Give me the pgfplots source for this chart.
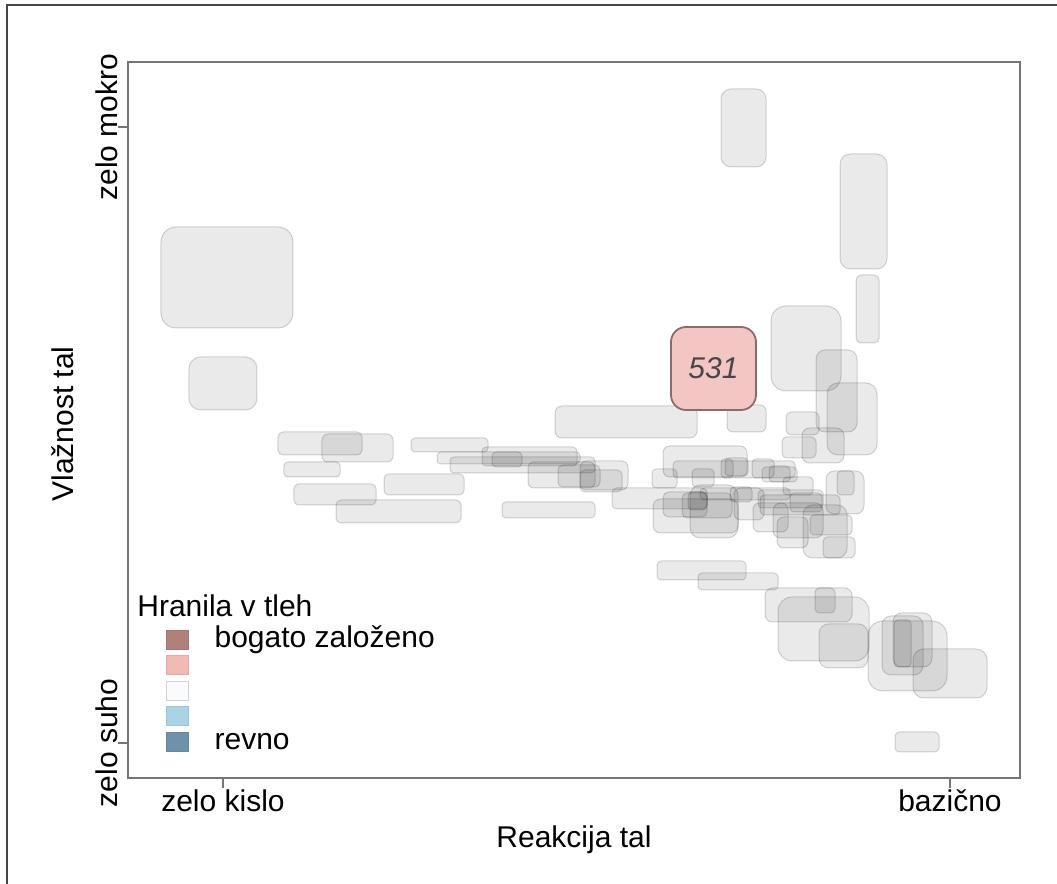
\documentclass[border=0pt]{standalone}
\usepackage{pgfplots}
\pgfplotsset{compat=1.18}
\usepackage{fontspec}
\setmainfont{Liberation Sans}
\definecolor{axgray}{RGB}{118,118,118}
\definecolor{framegray}{RGB}{70,70,70}
\definecolor{pinkfill}{RGB}{242,198,194}
\definecolor{pinkedge}{RGB}{140,108,106}
\definecolor{lc1}{RGB}{176,128,123}
\definecolor{lc2}{RGB}{241,186,180}
\definecolor{lc3}{RGB}{250,251,253}
\definecolor{lc4}{RGB}{171,211,230}
\definecolor{lc5}{RGB}{111,146,172}
\pgfplotsset{
  box/.style={forget plot, mark=none, fill=black, fill opacity=0.082, draw=black, draw opacity=0.16, line width=0.5pt},
  pinkbox/.style={forget plot, mark=none, fill=pinkfill, draw=pinkedge, line width=0.9pt},
  sq/.style={legend image code/.code={\draw[##1] (0pt,-4.75pt) rectangle (11pt,4.75pt); \path[draw=none,fill=none] (0pt,0pt) -- (24pt,0pt);}},
}
% one rounded box: x1, x2, y1, y2 (image pixel units; y counted downward)
\newcommand{\bx}[5][box]{%
  \pgfmathsetmacro{\rw}{abs(#3-#2)}%
  \pgfmathsetmacro{\rh}{abs(#5-#4)}%
  \pgfmathsetmacro{\rr}{0.5*min(15,max(4,0.22*min(\rw,\rh)))}%
  \edef\tmpbox{\noexpand\addplot[#1, rounded corners=\rr pt] coordinates {(#2,-#4) (#3,-#4) (#3,-#5) (#2,-#5)} -- cycle;}%
  \tmpbox}
\begin{document}
\fontsize{15}{18}\selectfont
\begin{tikzpicture}
\begin{axis}[
  scale only axis, width=446pt, height=358pt,
  xmin=128, xmax=1020, ymin=-778, ymax=-62,
  clip=false,
  axis line style={draw=axgray, line width=1pt},
  tick style={draw=axgray, line width=0.6pt},
  tick align=outside, major tick length=5pt, tick pos=left,
  xtick={223,950}, xticklabels={zelo kislo, bazično},
  ytick={-743,-127}, yticklabels={zelo suho, zelo mokro},
  xticklabel style={anchor=base, inner sep=0pt, yshift=-12pt},
  yticklabel style={rotate=90, anchor=base, inner sep=0pt},
  xlabel={Reakcija tal},
  xlabel style={at={(axis cs:574,-848)}, anchor=base, inner sep=0pt},
  ylabel={Vlažnost tal},
  ylabel style={at={(axis cs:74,-424)}, anchor=base, inner sep=0pt},
  legend style={at={(axis cs:166,-627)}, anchor=north west, draw=none, fill=none,
    inner sep=0pt, outer sep=0pt, row sep=0pt,
    nodes={inner sep=0pt, text height=10.5pt, text depth=2.25pt}},
  legend cell align=left,
]
% upper / isolated
\bx{161}{293}{227}{328}
\bx{189}{257}{357}{410}
\bx{721}{766}{89}{167}
\bx{840}{887}{154}{269}
\bx{856}{879}{275}{343}
\bx{771}{841}{306}{391}
\bx{816}{857}{350}{432}
\bx{827}{877}{383}{455}
\bx{555}{697}{406}{438}
\bx{727}{766}{405}{432}
\bx{786}{819}{412}{435}
\bx{782}{816}{437}{458}
\bx{802}{844}{428}{463}
% left strips
\bx{278}{362}{432}{455}
\bx{322}{393}{434}{462}
\bx{284}{340}{462}{477}
\bx{294}{376}{484}{505}
\bx{336}{461}{500}{523}
\bx{384}{464}{474}{495}
\bx{411}{488}{438}{452}
\bx{437}{580}{452}{464}
\bx{450}{595}{457}{473}
\bx{482}{577}{447}{466}
\bx{492}{522}{452}{467}
\bx{528}{595}{462}{488}
\bx{558}{600}{465}{487}
\bx{502}{595}{502}{518}
% middle cluster
\bx{580}{628}{461}{490}
\bx{580}{622}{470}{492}
\bx{663}{747}{446}{477}
\bx{673}{795}{461}{478}
\bx{721}{733}{459}{478}
\bx{725}{748}{458}{476}
\bx{752}{774}{459}{478}
\bx{769}{790}{466}{482}
\bx{652}{677}{469}{488}
\bx{692}{714}{469}{487}
\bx{612}{707}{488}{509}
\bx{653}{738}{499}{533}
\bx{663}{707}{492}{517}
\bx{690}{738}{485}{538}
\bx{682}{732}{493}{518}
\bx{688}{707}{492}{510}
\bx{700}{790}{488}{500}
\bx{730}{752}{487}{502}
\bx{734}{764}{488}{520}
\bx{753}{788}{503}{532}
\bx{773}{823}{503}{538}
\bx{777}{808}{517}{548}
\bx{803}{847}{505}{558}
\bx{810}{852}{515}{535}
\bx{823}{855}{537}{558}
\bx{783}{813}{477}{495}
\bx{826}{864}{471}{514}
\bx{837}{854}{471}{495}
\bx{760}{840}{495}{515}
\bx{758}{823}{490}{508}
\bx{762}{797}{467}{482}
\bx{790}{822}{493}{512}
% lower
\bx{657}{746}{561}{580}
\bx{698}{778}{573}{590}
\bx{765}{852}{588}{622}
\bx{815}{835}{588}{613}
\bx{778}{869}{597}{661}
\bx{819}{868}{624}{668}
\bx{868}{947}{621}{691}
\bx{882}{923}{616}{675}
\bx{893}{932}{613}{667}
\bx{894}{911}{620}{667}
\bx{913}{987}{649}{698}
\bx{895}{939}{732}{752}
% highlighted releve
\bx[pinkbox]{671}{756}{327}{410}
\node[font=\fontsize{15}{18}\selectfont\itshape, text=black!72] at (axis cs:713.5,-368.5) {531};
% legend
\node[anchor=base west, inner sep=0pt] at (axis cs:137,-617) {Hranila v tleh};
\addlegendimage{sq, fill=lc1, draw=lc1!92!black, line width=0.4pt}
\addlegendentry{bogato založeno}
\addlegendimage{sq, fill=lc2, draw=lc2!92!black, line width=0.4pt}
\addlegendentry{}
\addlegendimage{sq, fill=lc3, draw=black!18, line width=0.6pt}
\addlegendentry{}
\addlegendimage{sq, fill=lc4, draw=lc4!92!black, line width=0.4pt}
\addlegendentry{}
\addlegendimage{sq, fill=lc5, draw=lc5!92!black, line width=0.4pt}
\addlegendentry{revno}
% page geometry helpers
\coordinate (tl) at (axis cs:0,0);
\coordinate (br) at (axis cs:1057,-884);
\coordinate (fA) at (axis cs:7,-884);
\coordinate (fC) at (axis cs:1057,-5);
\end{axis}
\pgfresetboundingbox
\path[use as bounding box] (tl) rectangle (br);
\draw[framegray, line width=0.8pt] (fA) |- (fC);
\end{tikzpicture}
\end{document}
